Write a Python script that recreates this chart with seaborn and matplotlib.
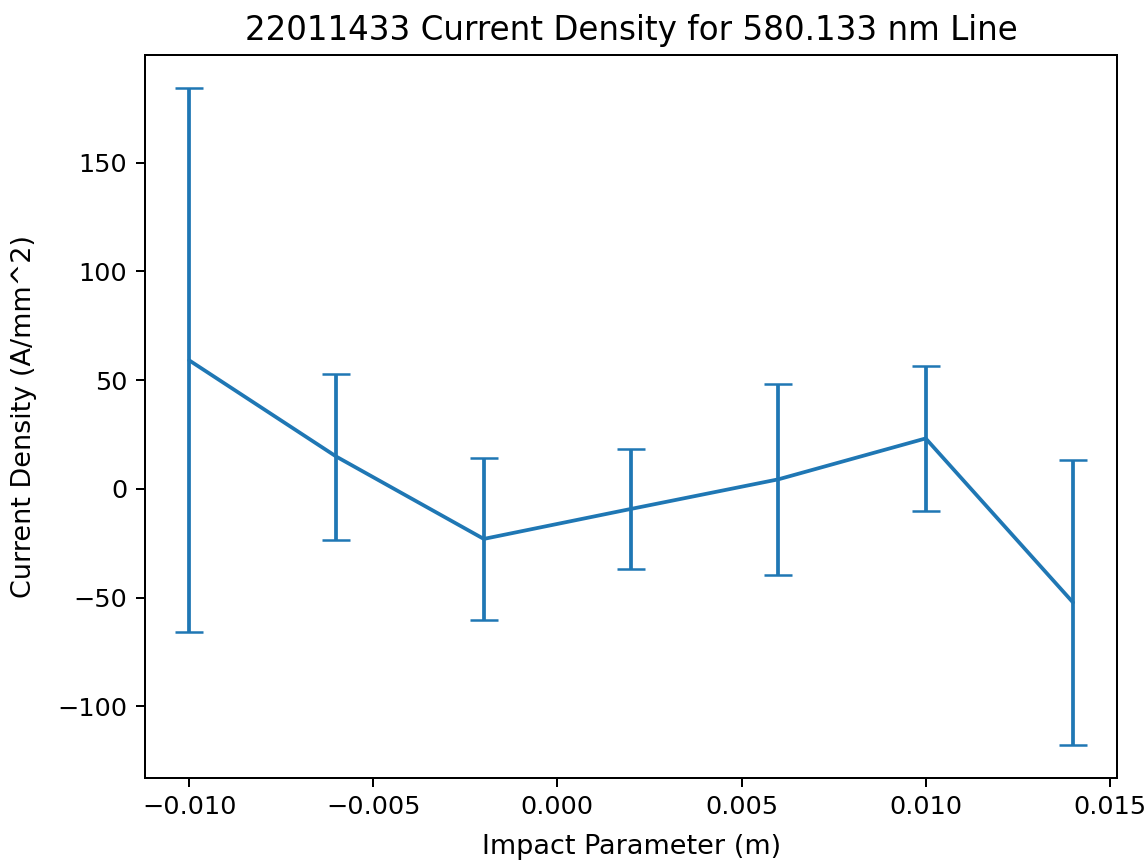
import matplotlib
matplotlib.use("Agg")
import matplotlib.pyplot as plt
import seaborn as sns
import pandas as pd

# Impact parameter positions (m), current density (A/mm^2) and its uncertainty
impact_parameter = [-0.010, -0.006, -0.002, 0.002, 0.006, 0.010, 0.014]
current_density = [59.1, 14.8, -23.0, -9.2, 4.4, 23.2, -52.2]
density_error = [125.1, 38.1, 37.3, 27.4, 44.0, 33.3, 65.6]

df = pd.DataFrame({"b": impact_parameter, "j": current_density, "err": density_error})

sns.set_style("white")
plt.rcParams["font.family"] = ["DejaVu Sans"]
plt.rcParams.update({
    "axes.edgecolor": "black",
    "axes.linewidth": 0.8,
    "text.color": "black",
    "axes.labelcolor": "black",
    "xtick.color": "black",
    "ytick.color": "black",
})

fig, ax = plt.subplots(figsize=(1147 / 180, 865 / 180), dpi=180)
fig.subplots_adjust(left=0.1264, right=0.974, top=0.936, bottom=0.1006)

color = "#1f77b4"
sns.lineplot(data=df, x="b", y="j", ax=ax, color=color, linewidth=1.5, errorbar=None)
ax.errorbar(df["b"], df["j"], yerr=df["err"], fmt="none", ecolor=color,
            elinewidth=1.5, capsize=5.5, capthick=1.0)

ax.set_title("22011433 Current Density for 580.133 nm Line", fontsize=13)
ax.set_xlabel("Impact Parameter (m)", fontsize=10.8, labelpad=6)
ax.set_ylabel("Current Density (A/mm^2)", fontsize=10.8, labelpad=8)
ax.tick_params(axis="both", which="both", direction="out", length=3.5, width=0.8,
               labelsize=10.2, bottom=True, left=True, pad=3.5)
for s in ax.spines.values():
    s.set_visible(True)
    s.set_color("black")

fig.savefig("out.png", dpi=180)
